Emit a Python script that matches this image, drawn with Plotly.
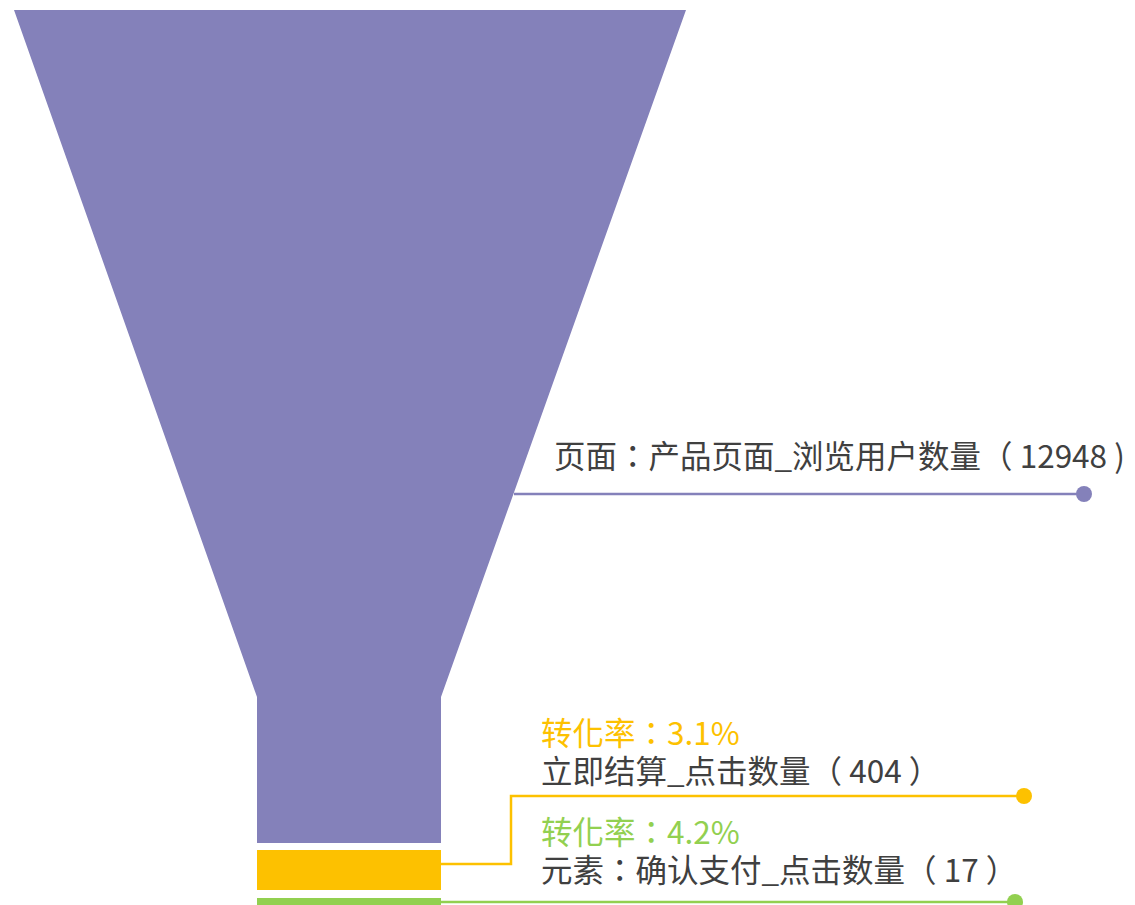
import plotly.graph_objects as go

# ---- data ----
stage_names = ["页面：产品页面_浏览用户数量", "立即结算_点击数量", "元素：确认支付_点击数量"]
stage_values = [12948, 404, 17]
conversion_rates = [None, "3.1%", "4.2%"]
colors = ["#8481BA", "#FDC100", "#92D050"]
text_color = "#404040"
FONT = "Noto Sans CJK TC"
FS = 31.5          # glyph size
LINE_FS = 29.2     # base size -> 1.3 * 29.2 = 38 px line pitch

fig = go.Figure()

# funnel shapes (pixel-like coordinate system via fixed axes)
shapes_xy = [
    ([14, 686, 441, 441, 257, 257, 14], [10, 10, 697, 843, 843, 697, 10]),
    ([257, 441, 441, 257, 257], [850, 850, 890, 890, 850]),
    ([257, 441, 441, 257, 257], [898, 898, 910, 910, 898]),
]
for (xs, ys), c in zip(shapes_xy, colors):
    fig.add_trace(go.Scatter(x=xs, y=ys, fill="toself", fillcolor=c, mode="lines",
                             line=dict(width=0, color=c), hoverinfo="skip", showlegend=False))

# leader lines
leaders = [
    ([514, 1084], [494, 494]),
    ([441, 511, 511, 1024], [864, 864, 796, 796]),
    ([441, 1015], [902, 902]),
]
for (xs, ys), c in zip(leaders, colors):
    fig.add_trace(go.Scatter(x=xs, y=ys, mode="lines", line=dict(width=2.5, color=c),
                             hoverinfo="skip", showlegend=False))
    fig.add_trace(go.Scatter(x=[xs[-1]], y=[ys[-1]], mode="markers",
                             marker=dict(size=16, color=c), hoverinfo="skip", showlegend=False))

# labels
# first stage: single line
fig.add_annotation(x=554, y=454, xref="x", yref="y", xanchor="left", yanchor="middle",
                   text=f"{stage_names[0]}（ {stage_values[0]} )", showarrow=False,
                   borderpad=0, borderwidth=0, align="left",
                   font=dict(family=FONT, size=FS, color=text_color))

group_pos = [None, (541, 750), (541, 849)]
for i in (1, 2):
    x, y = group_pos[i]
    txt = (f'<span style="color:{colors[i]};font-size:{FS}px">转化率：{conversion_rates[i]}</span><br>'
           f'<span style="font-size:{FS}px">{stage_names[i]}（ {stage_values[i]} ）</span>')
    fig.add_annotation(x=x, y=y, xref="x", yref="y", xanchor="left", yanchor="middle",
                       text=txt, showarrow=False, borderpad=0, borderwidth=0, align="left",
                       font=dict(family=FONT, size=LINE_FS, color=text_color))

fig.update_layout(
    width=1135, height=905, margin=dict(l=0, r=0, t=0, b=0),
    paper_bgcolor="white", plot_bgcolor="white",
    xaxis=dict(range=[0, 1135], visible=False, fixedrange=True),
    yaxis=dict(range=[905, 0], visible=False, fixedrange=True),
)
fig.write_html("out.html")
